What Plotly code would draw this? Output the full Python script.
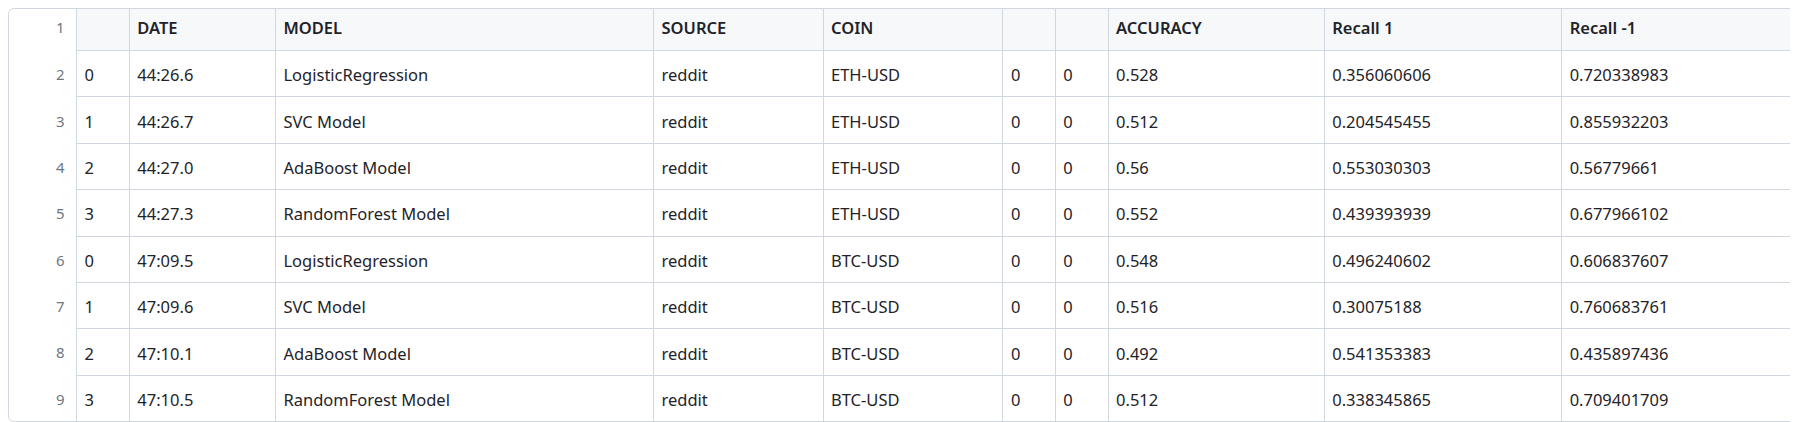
import plotly.graph_objects as go

line_numbers = ["2", "3", "4", "5", "6", "7", "8", "9"]
header_labels = ["1", "", "DATE", "MODEL", "SOURCE", "COIN", "", "", "ACCURACY", "Recall 1", "Recall -1"]
row_index = ["0", "1", "2", "3", "0", "1", "2", "3"]
dates = ["44:26.6", "44:26.7", "44:27.0", "44:27.3", "47:09.5", "47:09.6", "47:10.1", "47:10.5"]
models = ["LogisticRegression", "SVC Model", "AdaBoost Model", "RandomForest Model",
          "LogisticRegression", "SVC Model", "AdaBoost Model", "RandomForest Model"]
sources = ["reddit"] * 8
coins = ["ETH-USD"] * 4 + ["BTC-USD"] * 4
blank_a = ["0"] * 8
blank_b = ["0"] * 8
accuracy = ["0.528", "0.512", "0.56", "0.552", "0.548", "0.516", "0.492", "0.512"]
recall_pos = ["0.356060606", "0.204545455", "0.553030303", "0.439393939",
              "0.496240602", "0.30075188", "0.541353383", "0.338345865"]
recall_neg = ["0.720338983", "0.855932203", "0.56779661", "0.677966102",
              "0.606837607", "0.760683761", "0.435897436", "0.709401709"]

# the page has an 8px body margin, so the figure is a bit smaller than the window
W, H = 1790, 414
BORDER = "#d0d7de"
TEXT = "#1f2328"
MUTED = "#6e7781"
CLEAR = "rgba(0,0,0,0)"
FONT = "Noto Sans"

col_widths = [68.5, 52.8, 146.2, 378.1, 169.5, 179.9, 52.4, 52.8, 216.2, 237.4, 234.4]
n_cols = len(col_widths)
x_dom = [0, sum(col_widths) / W]
row_h = 46.37

# line numbers get a little extra room on the right, like the gutter
gutter_head = [header_labels[0] + "\u00a0"] + header_labels[1:]
columns = [[n + "\u00a0" for n in line_numbers], row_index, dates, models, sources, coins,
           blank_a, blank_b, accuracy, recall_pos, recall_neg]
aligns = ["right"] + ["left"] * (n_cols - 1)
sizes = [15] + [16.5] * (n_cols - 1)
colors = [MUTED] + [TEXT] * (n_cols - 1)
weights = ["normal"] + [600] * (n_cols - 1)

fig = go.Figure()

# grid: fills and cell borders only, one empty cell per data value
fig.add_trace(go.Table(
    domain=dict(x=x_dom, y=[0, 1]),
    columnwidth=col_widths,
    header=dict(
        values=[""] * n_cols, height=42.6,
        fill=dict(color=["white"] + ["#f6f8fa"] * (n_cols - 1)),
        line=dict(color=["white"] + [BORDER] * (n_cols - 1), width=1),
    ),
    cells=dict(
        values=[[""] * len(col) for col in columns], height=row_h,
        fill=dict(color="white"),
        line=dict(color=["white"] + [BORDER] * (n_cols - 1), width=1),
    ),
))

# text layer, shifted down so labels sit in the middle of each row
fig.add_trace(go.Table(
    domain=dict(x=x_dom, y=[0, 1 - 6 / H]),
    columnwidth=col_widths,
    header=dict(
        values=gutter_head, height=47, align=aligns,
        fill=dict(color=CLEAR),
        line=dict(color=CLEAR, width=0),
        font=dict(family=FONT, size=sizes, color=colors, weight=weights),
    ),
    cells=dict(
        values=columns, height=row_h, align=aligns,
        fill=dict(color=CLEAR),
        line=dict(color=CLEAR, width=0),
        font=dict(family=FONT, size=sizes, color=colors),
    ),
))

# rounded outer frame of the file view
x0, x1 = 0.5 / W, (sum(col_widths) - 0.5) / W
y0, y1 = 0.5 / H, 1 - 0.5 / H
rx, ry = 6 / W, 6 / H
frame = (f"M {x0 + rx} {y1} L {x1 - rx} {y1} Q {x1} {y1} {x1} {y1 - ry} "
         f"L {x1} {y0 + ry} Q {x1} {y0} {x1 - rx} {y0} "
         f"L {x0 + rx} {y0} Q {x0} {y0} {x0} {y0 + ry} "
         f"L {x0} {y1 - ry} Q {x0} {y1} {x0 + rx} {y1} Z")
fig.add_shape(type="path", path=frame, xref="paper", yref="paper",
              line=dict(color=BORDER, width=1))

fig.update_layout(
    width=W, height=H,
    margin=dict(l=0, r=0, t=0, b=0),
    paper_bgcolor="white",
)

fig.write_html("out.html")
